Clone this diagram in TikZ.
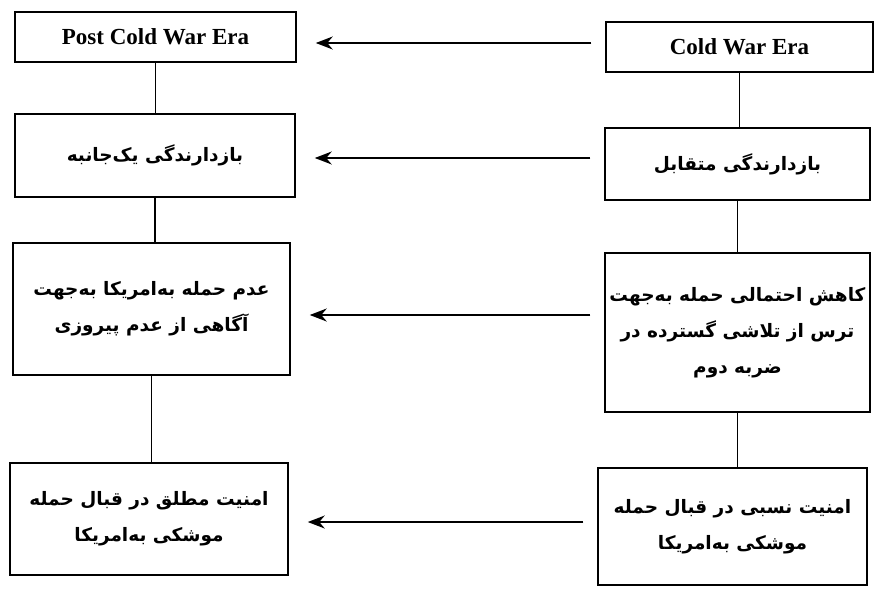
\documentclass[tikz,border=0pt]{standalone}
\usepackage{fontspec}
\setmainfont{Liberation Serif}
\newfontfamily\fa[Script=Arabic]{DejaVu Sans}
\TeXXeTstate=1
\usetikzlibrary{arrows.meta}
\newcommand{\rtl}[1]{\beginR #1\endR}

\begin{document}
\begin{tikzpicture}[x=1pt,y=-1pt]
  \tikzset{era/.style={draw,line width=1.5pt,minimum width=#1,minimum height=50pt,inner sep=0pt,font=\fontsize{23}{26}\selectfont\bfseries},
    cell/.style 2 args={draw,line width=1.5pt,minimum width=#1,minimum height=#2,inner sep=0pt,align=center,font=\fa\fontsize{18.5}{36}\selectfont\bfseries},
    flow/.style={-{Stealth[length=17pt,width=13pt]},line width=1.6pt,shorten <=14pt,shorten >=19pt}}
  \useasboundingbox (0,0) rectangle (874,590);
  % left column
  \node[era=281pt] (l1) at (155.5,37) {Post Cold War Era};
  \node[cell={280pt}{83pt}] (l2) at (155,155.5) {\rtl{بازدارندگی یک‌جانبه}};
  \node[cell={277pt}{132pt}] (l3) at (151.5,309) {\rtl{عدم حمله به‌امریکا به‌جهت}\\\rtl{آگاهی از عدم پیروزی}};
  \node[cell={278pt}{112pt}] (l4) at (149,519) {\rtl{امنیت مطلق در قبال حمله}\\\rtl{موشکی به‌امریکا}};
  % right column
  \node[era=267pt] (r1) at (739.5,47) {Cold War Era};
  \node[cell={265pt}{72pt}] (r2) at (737.5,164) {\rtl{بازدارندگی متقابل}};
  \node[cell={265pt}{159pt}] (r3) at (737.5,332.5) {\rtl{کاهش احتمالی حمله به‌جهت}\\\rtl{ترس از تلاشی گسترده در}\\\rtl{ضربه دوم}};
  \node[cell={269pt}{117pt}] (r4) at (732.5,526.5) {\rtl{امنیت نسبی در قبال حمله}\\\rtl{موشکی به‌امریکا}};
  \foreach \a/\b in {l1/l2,l2/l3,l3/l4,r1/r2,r2/r3,r3/r4} \draw[line width=1.5pt] (\a.south) -- (\a.south |- \b.north);
  \draw[flow] (r1.west |- 0,43) -- (l1.east |- 0,43); \draw[flow] (r2.west |- 0,158) -- (l2.east |- 0,158);
  \draw[flow] (r3.west |- 0,315) -- (l3.east |- 0,315); \draw[flow] (r4.west |- 0,522) -- (l4.east |- 0,522);
\end{tikzpicture}
\end{document}
